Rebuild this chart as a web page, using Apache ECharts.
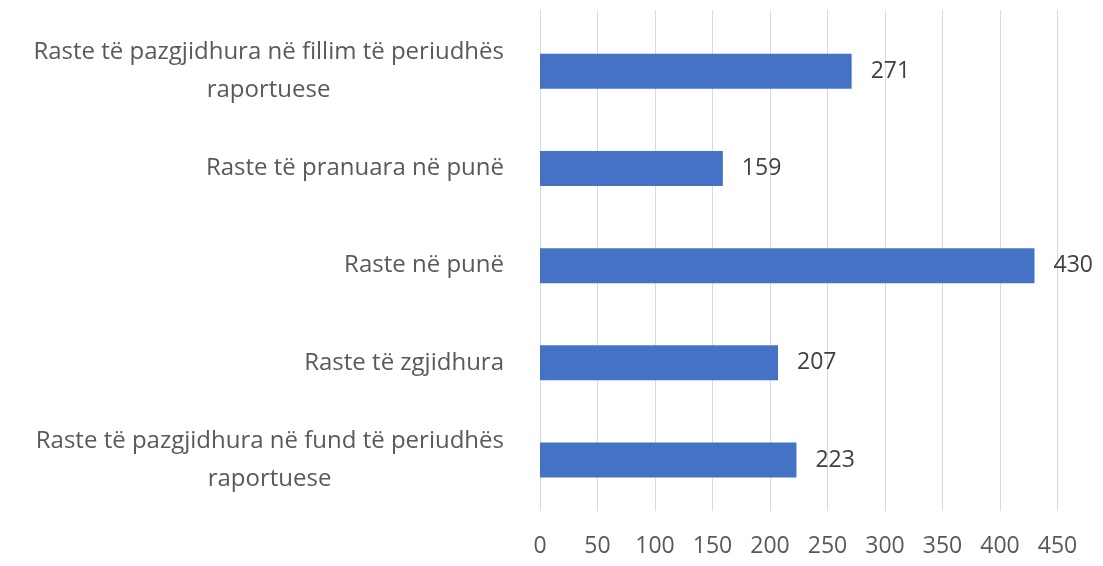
<!DOCTYPE html>
<html>
<head>
<meta charset="utf-8">
<script src="https://cdn.jsdelivr.net/npm/echarts@6/dist/echarts.min.js"></script>
<style>
html,body{margin:0;padding:0;background:#fff;}
#chart{width:1103px;height:566px;}
</style>
</head>
<body>
<div id="chart"></div>
<script>
const categories = [
  'Raste të pazgjidhura në fillim të periudhës\nraportuese',
  'Raste të pranuara në punë',
  'Raste në punë',
  'Raste të zgjidhura',
  'Raste të pazgjidhura në fund të periudhës\nraportuese'
];
const values = [271, 159, 430, 207, 223];
const xTicks = [0, 50, 100, 150, 200, 250, 300, 350, 400, 450];

const FONT = 'Open Sans';
const FS = 23;
const CFS = 24;
const canvas = document.createElement('canvas');
const ctx = canvas.getContext('2d');
ctx.font = CFS + 'px "' + FONT + '"';
function w(t){ return Math.ceil(ctx.measureText(t).width); }

const chart = echarts.init(document.getElementById('chart'), null, {renderer:'canvas'});
const rich = {};
const labelFmt = function(v, i){
  const lines = v.split('\n');
  if (lines.length === 1) return '{a|' + v + '}';
  const key = 'c' + i;
  rich[key] = {width: w(lines[0]), align: 'center', fontFamily: FONT, fontSize: CFS, color: '#595959', lineHeight: 38};
  return '{a|' + lines[0] + '}\n{' + key + '|' + lines[1] + '}';
};
categories.forEach((c, i) => labelFmt(c, i));
rich.a = {fontFamily: FONT, fontSize: CFS, color: '#595959', lineHeight: 38};

chart.setOption({
  animation: false,
  backgroundColor: '#ffffff',
  grid: [
    {left: 540, right: 45.5, top: 10, bottom: 55},
    {left: 540, right: 45.5, top: 22.7, bottom: 57.4}
  ],
  xAxis: [
    {
      gridIndex: 0, type: 'value', min: xTicks[0], max: xTicks[xTicks.length-1], interval: 50,
      axisLine: {show: false}, axisTick: {show: false},
      splitLine: {show: true, lineStyle: {color: '#D9D9D9', width: 1}},
      axisLabel: {fontFamily: FONT, fontSize: FS, color: '#595959', margin: 24}
    },
    {
      gridIndex: 1, type: 'value', min: xTicks[0], max: xTicks[xTicks.length-1],
      show: false
    }
  ],
  yAxis: [
    {gridIndex: 0, type: 'category', data: categories, show: false},
    {
      gridIndex: 1, type: 'category', data: categories, inverse: true,
      axisLine: {show: false}, axisTick: {show: false},
      axisLabel: {
        margin: 36, align: 'right',
        formatter: labelFmt, rich: rich
      }
    }
  ],
  series: [{
    type: 'bar', xAxisIndex: 1, yAxisIndex: 1,
    data: values, barWidth: 35,
    itemStyle: {color: '#4472C4'},
    label: {show: true, position: 'right', distance: 19, fontFamily: FONT, fontSize: FS, color: '#404040'}
  }]
});
</script>
</body>
</html>
